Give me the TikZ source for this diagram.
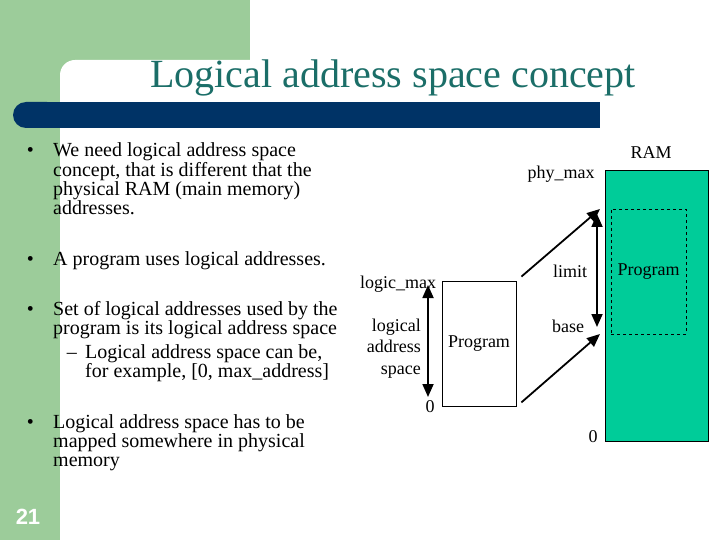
\documentclass[tikz,border=0pt]{standalone}
\usepackage{fontspec}
\setmainfont{Liberation Serif}
\newfontfamily\numfont{Liberation Sans}
\usetikzlibrary{arrows.meta}
\definecolor{slidegreen}{HTML}{9CCC9A}
\definecolor{barblue}{HTML}{003366}
\definecolor{titleteal}{HTML}{1B6E68}
\definecolor{ramgreen}{HTML}{00CC99}

\begin{document}
\begin{tikzpicture}[x=1pt,y=-1pt,
  txt/.style={font=\fontsize{20}{19.3}\selectfont,align=left,anchor=base west,inner sep=0},
  lbl/.style={font=\fontsize{18}{21.5}\selectfont,inner sep=0},
  arr/.style={line width=1.8pt,-{Triangle[length=13pt,width=11pt]}},
  darr/.style={line width=1.8pt,{Triangle[length=13pt,width=11pt]}-{Triangle[length=13pt,width=11pt]}}]
\useasboundingbox (0,0) rectangle (720,540);
% slide background
\fill[slidegreen] (0,0) rectangle (250,75);
\fill[slidegreen] (0,0) rectangle (60,540);
\fill[white,rounded corners=15pt] (60,60) rectangle (720,540);
\fill[barblue,rounded corners=13pt] (13,102) rectangle (60,128);
\fill[barblue] (40,102) rectangle (600,128);
\node[font=\fontsize{40}{40}\selectfont,text=titleteal,anchor=base] (title) at (393,88) {Logical address space concept};
\node[font=\numfont\bfseries\fontsize{22}{22}\selectfont,text=white] (pnum) at (28,517) {21};
% bullets (anchored at the baseline of their last line)
\node[txt] (b1) at (53,214.9) {We need logical address space\\concept, that is different that the\\physical RAM (main memory)\\addresses.};
\node[txt] (b2) at (53,265) {A program uses logical addresses.};
\node[txt] (b3) at (53,334.3) {Set of logical addresses used by the\\program is its logical address space};
\node[txt] (b3a) at (85,377.3) {Logical address space can be,\\for example, [0, max\_address]};
\node[txt] (b4) at (53,466.6) {Logical address space has to be\\mapped somewhere in physical\\memory};
\foreach \n/\y in {b1/157,b2/265,b3/315,b4/428}
  \node[txt,anchor=base east] (\n-dot) at (34,\y) {\textbullet};
\node[txt,anchor=base east] (b3a-dash) at (77,358) {–};
% logical side
\node[draw,line width=0.8pt,minimum width=74,minimum height=125,lbl] (lprog) at (479,343.5) {Program};
\node[lbl,anchor=base] (lmax) at (398,288) {logic\_max};
\node[lbl,anchor=base] (lzero) at (430,412) {0};
\node[lbl,align=right,anchor=base east] (lspace) at (421,374) {logical\\address\\space};
\coordinate (ltop) at (428,285);
\coordinate (lbot) at (428,397);
\draw[darr] (ltop) -- (lbot);
% physical side
\node[draw,line width=0.8pt,fill=ramgreen,minimum width=103,minimum height=271] (ram) at (656.5,305.5) {};
\node[draw,dashed,thin,minimum width=75,minimum height=125,lbl] (pprog) at (648.5,271.5) {Program};
\node[lbl,anchor=base] (ramlbl) at (651,159) {RAM};
\node[lbl,anchor=base] (pmax) at (561,179) {phy\_max};
\node[lbl,anchor=base] (plimit) at (570,277) {limit};
\node[lbl,anchor=base] (pbaselbl) at (568,332) {base};
\node[lbl,anchor=base] (pzero) at (593,442) {0};
\coordinate (ptop) at (600,209);
\coordinate (pbase) at (600,334);
\coordinate (limtop) at (597,214);
\coordinate (limbot) at (597,327);
\draw[darr] (limtop) -- (limbot);
% mapping
\draw[arr] ([shift={(5,-4)}]lprog.north east) -- (ptop);
\draw[arr] ([shift={(5,-4)}]lprog.south east) -- (pbase);
\end{tikzpicture}
\end{document}
